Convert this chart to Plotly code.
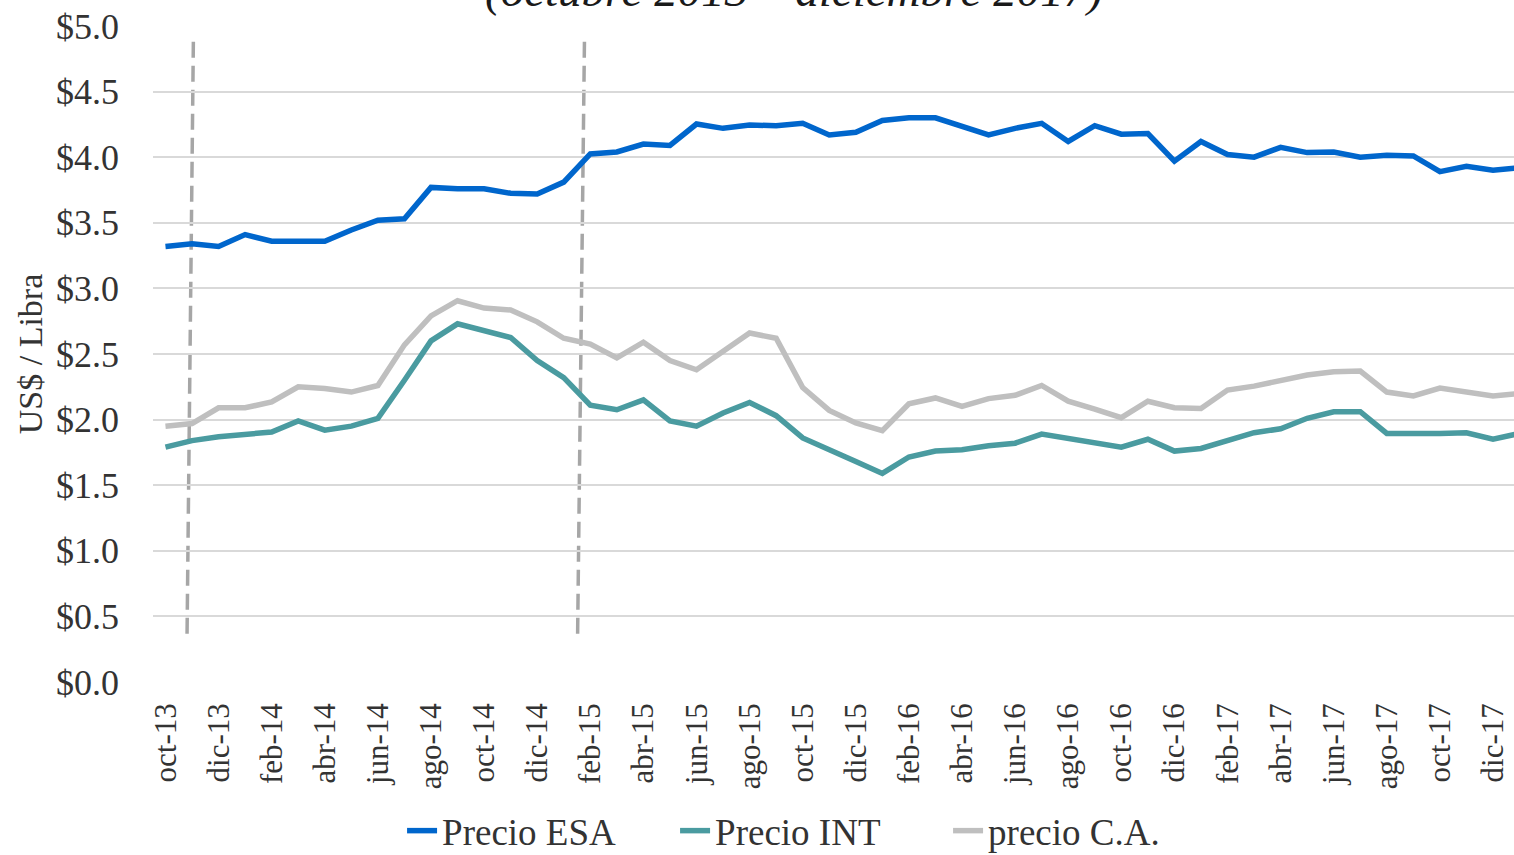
import plotly.graph_objects as go

# meses (oct-13 a ene-18)
meses = ["oct-13", "nov-13", "dic-13",
         "ene-14", "feb-14", "mar-14", "abr-14", "may-14", "jun-14",
         "jul-14", "ago-14", "sep-14", "oct-14", "nov-14", "dic-14",
         "ene-15", "feb-15", "mar-15", "abr-15", "may-15", "jun-15",
         "jul-15", "ago-15", "sep-15", "oct-15", "nov-15", "dic-15",
         "ene-16", "feb-16", "mar-16", "abr-16", "may-16", "jun-16",
         "jul-16", "ago-16", "sep-16", "oct-16", "nov-16", "dic-16",
         "ene-17", "feb-17", "mar-17", "abr-17", "may-17", "jun-17",
         "jul-17", "ago-17", "sep-17", "oct-17", "nov-17", "dic-17",
         "ene-18"]

precio_esa = [3.32, 3.34, 3.32, 3.41, 3.36, 3.36, 3.36, 3.445, 3.52, 3.53,
              3.77, 3.76, 3.76, 3.725, 3.72, 3.81, 4.025, 4.04, 4.10, 4.09,
              4.253, 4.22, 4.245, 4.24, 4.258, 4.17, 4.19, 4.28, 4.30, 4.30,
              4.24, 4.17, 4.22, 4.258, 4.12, 4.24, 4.175, 4.18, 3.97, 4.12,
              4.02, 4.00, 4.075, 4.035, 4.04, 4.00, 4.015, 4.01, 3.89, 3.93,
              3.90, 3.92]

precio_int = [1.79, 1.84, 1.87, 1.885, 1.905, 1.99, 1.92, 1.95, 2.01, 2.30,
              2.60, 2.73, 2.68, 2.626, 2.45, 2.32, 2.11, 2.075, 2.15, 1.99,
              1.95, 2.05, 2.13, 2.03, 1.86, 1.765, 1.68, 1.59, 1.715, 1.76,
              1.77, 1.80, 1.82, 1.89, 1.86, 1.83, 1.79, 1.85, 1.76, 1.78,
              1.84, 1.90, 1.93, 2.01, 2.06, 2.06, 1.895, 1.89, 1.895, 1.90,
              1.85, 1.895]

precio_ca = [1.95, 1.97, 2.09, 2.09, 2.135, 2.25, 2.237, 2.21, 2.26, 2.57,
             2.79, 2.906, 2.85, 2.835, 2.745, 2.62, 2.575, 2.47, 2.59, 2.45,
             2.38, 2.52, 2.66, 2.62, 2.245, 2.07, 1.975, 1.915, 2.12, 2.165,
             2.10, 2.16, 2.185, 2.26, 2.14, 2.08, 2.015, 2.14, 2.09, 2.085,
             2.225, 2.255, 2.30, 2.34, 2.365, 2.37, 2.21, 2.18, 2.24, 2.21,
             2.18, 2.20]

# etiquetas cada dos meses
ticks_x = meses[0:51:2]
ticks_y = [0, 0.5, 1, 1.5, 2, 2.5, 3, 3.5, 4, 4.5, 5]

fuente = "Liberation Serif, Times New Roman, serif"
gris_texto = "#333333"

fig = go.Figure()
fig.add_trace(go.Scatter(x=meses, y=precio_esa, name="Precio ESA", mode="lines",
                         line=dict(color="#0066CC", width=5.5)))
fig.add_trace(go.Scatter(x=meses, y=precio_int, name="Precio INT", mode="lines",
                         line=dict(color="#4A9BA0", width=5.5)))
fig.add_trace(go.Scatter(x=meses, y=precio_ca, name="precio C.A.", mode="lines",
                         line=dict(color="#BFBFBF", width=5.5)))

# lineas punteadas (trazo a mano, ligeramente inclinadas)
for x_arriba, x_abajo in [(1.05, 0.81), (15.78, 15.52)]:
    fig.add_shape(type="line", xref="x", yref="y",
                  x0=x_arriba, y0=4.88, x1=x_abajo, y1=0.32,
                  line=dict(color="#A6A6A6", width=3.5, dash="16px,8px"),
                  layer="below")

fig.add_annotation(text="<i>(octubre 2013 – diciembre 2017)</i>",
                   xref="paper", yref="paper", x=0.471, y=1.012,
                   xanchor="center", yanchor="bottom", showarrow=False,
                   font=dict(family=fuente, size=47, color="#1a1a1a"))

fig.update_layout(
    width=1514, height=855,
    margin=dict(l=153, r=0, t=26, b=173, autoexpand=False),
    paper_bgcolor="white", plot_bgcolor="white",
    font=dict(family=fuente, color=gris_texto),
    showlegend=True,
    legend=dict(orientation="h", x=0.183, y=-0.18, xanchor="left", yanchor="top",
                font=dict(size=37, color=gris_texto), entrywidth=228,
                bgcolor="rgba(0,0,0,0)"),
    xaxis=dict(type="category", range=[-0.47, 50.79],
               tickvals=ticks_x, ticktext=ticks_x, tickangle=-90,
               tickfont=dict(size=31, color=gris_texto),
               showgrid=False, zeroline=False, showline=False,
               ticks="", ticklabelstandoff=14, automargin=False),
    yaxis=dict(range=[0, 5], tickvals=ticks_y, tickformat="$.1f",
               tickfont=dict(size=36, color=gris_texto),
               showgrid=True, gridcolor="#D9D9D9", gridwidth=2,
               zeroline=False, showline=False, ticks="",
               ticklabelstandoff=33, automargin=False,
               title=dict(text="US$ / Libra", standoff=3,
                          font=dict(size=34, color=gris_texto))),
)

# sin margen del body para que la figura ocupe toda la ventana
fig.write_html("out.html",
               config={"displayModeBar": False},
               post_script="document.body.style.margin='0';"
                           "document.body.style.overflow='hidden';")
